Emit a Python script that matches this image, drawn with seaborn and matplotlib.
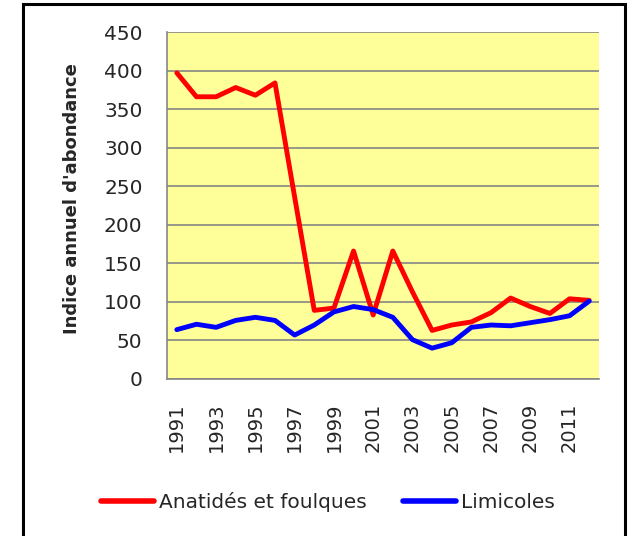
import pandas as pd
import numpy as np
import matplotlib
import matplotlib.pyplot as plt
import seaborn as sns
from matplotlib.patches import Rectangle
from matplotlib.ticker import FixedLocator

sns.set_theme(style="white")
matplotlib.rcParams["font.family"] = ["DejaVu Sans"]

# %% data
years = list(range(1991, 2013))
anatides = [397, 366, 366, 378, 368, 384, 236, 89, 92, 166, 83, 166, 113, 63,
            70, 74, 86, 105, 94, 85, 104, 102]
limicoles = [64, 71, 67, 76, 80, 76, 57, 70, 87, 94, 90, 80, 51, 40,
             47, 67, 70, 69, 73, 77, 82, 101]
series_names = ["Anatidés et foulques", "Limicoles"]
colors = ["#FF0000", "#0000FF"]

df = pd.DataFrame({
    "annee": years * 2,
    "indice": anatides + limicoles,
    "serie": [series_names[0]] * len(years) + [series_names[1]] * len(years),
})

# %%
fig = plt.figure(figsize=(6.32, 5.36), dpi=100)
ax = fig.add_axes([167 / 632, 1 - 379 / 536, 432 / 632, 347 / 536])
ax.set_facecolor("#FFFF99")

sns.lineplot(data=df, x="annee", y="indice", hue="serie",
             palette=colors, linewidth=3.5, ax=ax, legend=False)

grey = "#868686"
ax.set_xlim(1990.5, 2012.5)
ax.set_ylim(0, 450)
ax.set_yticks(np.arange(0, 451, 50))
ax.yaxis.grid(True, color=grey, linewidth=1.2)
ax.set_axisbelow(True)

ax.set_xticks(years[::2])
ax.set_xticklabels([str(y) for y in years[::2]], rotation=90)
ax.xaxis.set_minor_locator(FixedLocator(np.arange(1990.5, 2013, 1)))
ax.tick_params(axis="x", which="major", length=0, pad=17, labelsize=14)
ax.tick_params(axis="x", which="minor", length=3, color=grey, width=1)
ax.tick_params(axis="y", length=3.6, color=grey, width=1, pad=14,
               labelsize=14.5)

for s in ["top", "right"]:
    ax.spines[s].set_visible(False)
for s in ["left", "bottom"]:
    ax.spines[s].set_color(grey)
    ax.spines[s].set_linewidth(1.2)

ax.set_xlabel("")
ax.set_ylabel("Indice annuel d'abondance", fontsize=13, fontweight="bold")
ax.yaxis.set_label_coords(-0.199, 0.52)

handles = [plt.Line2D([], [], color=c, linewidth=4) for c in colors]
fig.legend(handles, series_names, loc="center",
           bbox_to_anchor=(328 / 632, 1 - 502 / 536), ncol=2, frameon=False,
           fontsize=14.5, handlelength=2.63, handletextpad=0.25,
           columnspacing=1.8)

fig.patches.append(Rectangle((23 / 632, -0.05), 602 / 632, 1.05 - 4 / 536,
                             transform=fig.transFigure, fill=False,
                             edgecolor="black", linewidth=2.2))

fig.savefig("out.png", dpi=100)
